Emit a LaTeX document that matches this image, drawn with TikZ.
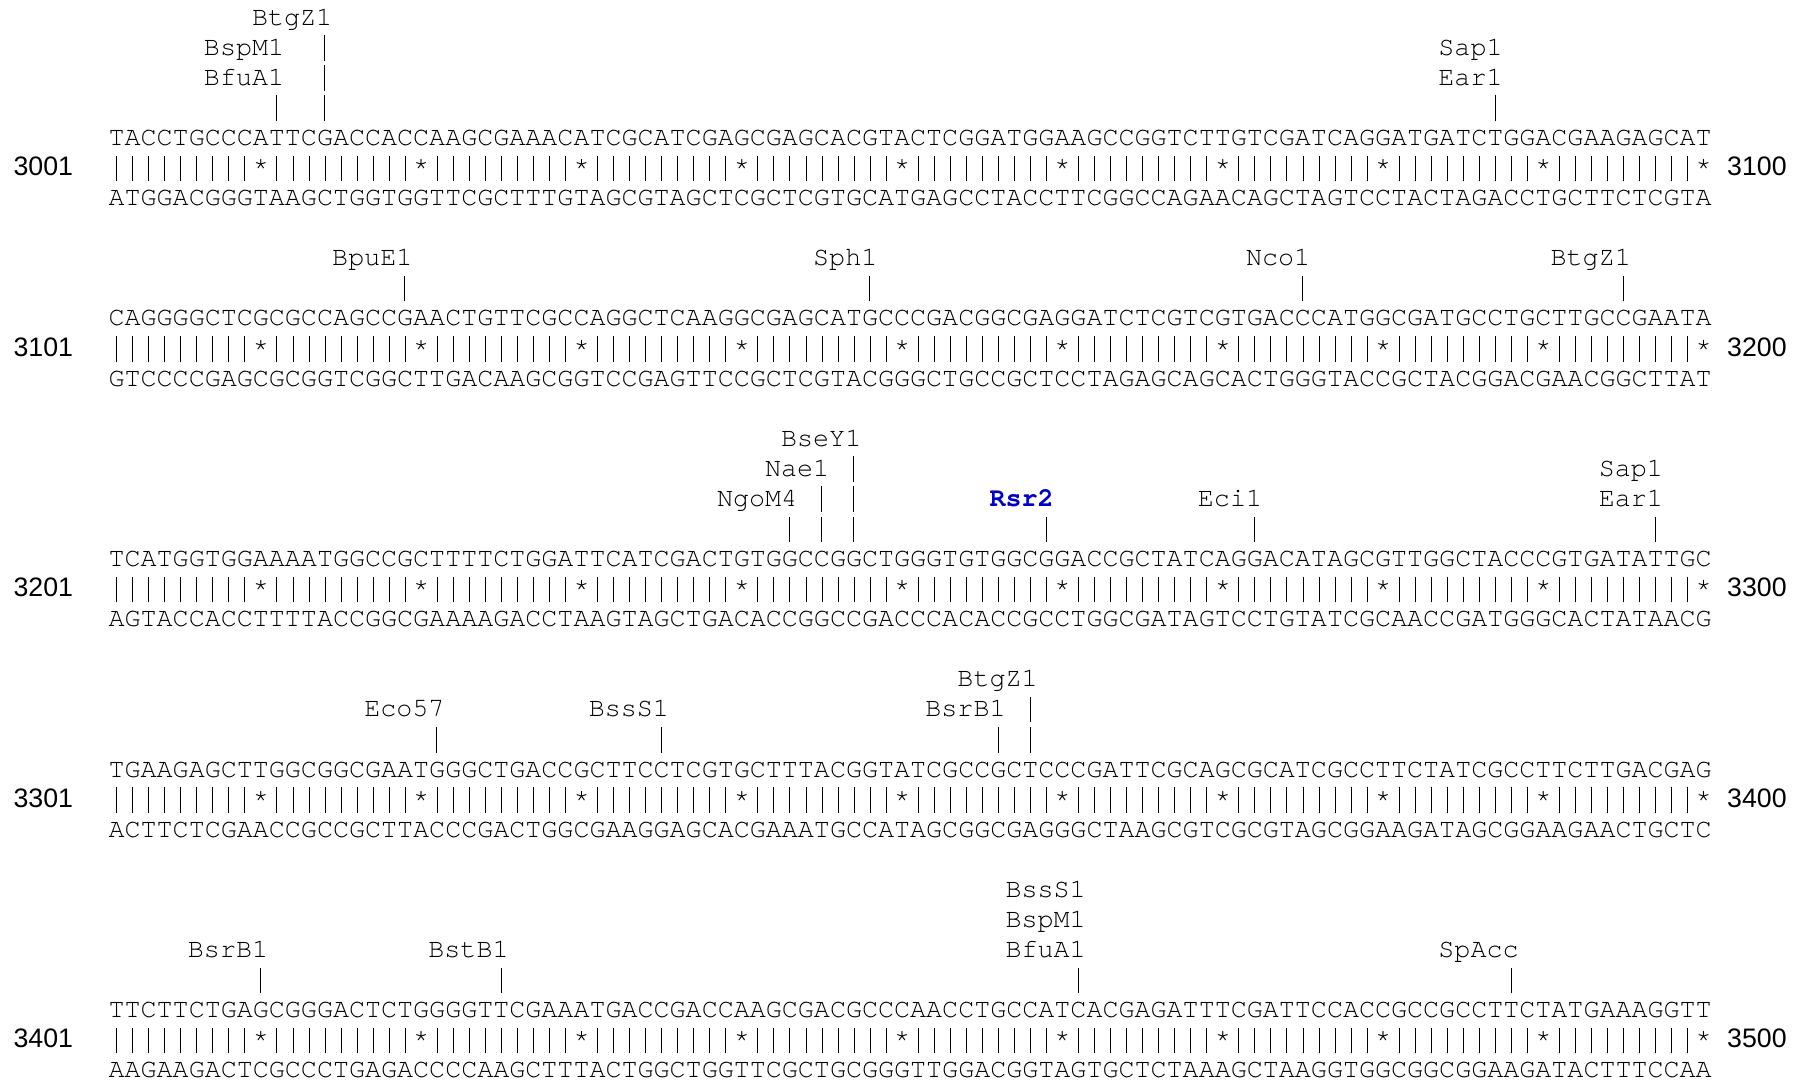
\documentclass[tikz,border=0pt]{standalone}
\usepackage{fontspec}
\setmonofont{TeX Gyre Cursor}
\setsansfont{Liberation Sans}
\usetikzlibrary{positioning}
\definecolor{rsrblue}{RGB}{0,0,205}
\newcommand{\cutbar}{\makebox[8.016pt]{\rule[-2.75pt]{0.45pt}{12.75pt}}}
\newcommand{\matchgroup}{\cutbar\cutbar\cutbar\cutbar\cutbar\cutbar\cutbar\cutbar\cutbar*}

\begin{document}
\begin{tikzpicture}[x=8.016pt, y=-15.04pt,
                seqrow/.style={font=\ttfamily\fontsize{13.36pt}{15.04pt}\selectfont, anchor=base west, inner sep=0pt},
                numlabel/.style={font=\sffamily\fontsize{13.36pt}{15.04pt}\selectfont, inner sep=0pt},
                enzyme/.style={font=\ttfamily\fontsize{13.36pt}{15.04pt}\selectfont, anchor=base east, inner sep=0pt},
                enzyme_hl/.style={enzyme, font=\ttfamily\bfseries\fontsize{13.36pt}{15.04pt}\selectfont, text=rsrblue},
                cutmark/.style={font=\ttfamily\fontsize{13.36pt}{15.04pt}\selectfont, anchor=base, inner sep=0pt},
            ]
            \useasboundingbox (-6.749,-0.836) rectangle (106.09,35.235);

            % Block 3001-3100
            \node[enzyme]   (BtgZ1_a)  at (14,0)  {BtgZ1};
            \node[enzyme]   (BspM1_a)  at (11,1)  {BspM1};
            \node[enzyme]   (BfuA1_a)  at (11,2)  {BfuA1};
            \node[enzyme]   (Sap1_a)   at (87,1)  {Sap1};
            \node[enzyme]   (Ear1_a)   at (87,2)  {Ear1};
            \node[cutmark]  (cut_a_13_1) at (13.5,1) {\cutbar};
            \node[cutmark]  (cut_a_13_2) at (13.5,2) {\cutbar};
            \node[cutmark]  (cut_a_13_3) at (13.5,3) {\cutbar};
            \node[cutmark]  (cut_a_10)   at (10.5,3) {\cutbar};
            \node[cutmark]  (cut_a_86)   at (86.5,3) {\cutbar};
            \node[seqrow]   (top_a)    at (0,4)  {TACCTGCCCATTCGACCACCAAGCGAAACATCGCATCGAGCGAGCACGTACTCGGATGGAAGCCGGTCTTGTCGATCAGGATGATCTGGACGAAGAGCAT};
            \node[seqrow]   (match_a)  at (0,5)  {\matchgroup\matchgroup\matchgroup\matchgroup\matchgroup\matchgroup\matchgroup\matchgroup\matchgroup\matchgroup};
            \node[seqrow]   (bottom_a) at (0,6)  {ATGGACGGGTAAGCTGGTGGTTCGCTTTGTAGCGTAGCTCGCTCGTGCATGAGCCTACCTTCGGCCAGAACAGCTAGTCCTACTAGACCTGCTTCTCGTA};
            \node[numlabel] (start_a)  [base left=17.39pt of match_a.base west]  {3001};
            \node[numlabel] (end_a)    [base right=7.3pt of match_a.base east]   {3100};

            % Block 3101-3200
            \node[enzyme]   (BpuE1_b)  at (19,8)  {BpuE1};
            \node[enzyme]   (Sph1_b)   at (48,8)  {Sph1};
            \node[enzyme]   (Nco1_b)   at (75,8)  {Nco1};
            \node[enzyme]   (BtgZ1_b)  at (95,8)  {BtgZ1};
            \node[cutmark]  (cut_b_18) at (18.5,9) {\cutbar};
            \node[cutmark]  (cut_b_47) at (47.5,9) {\cutbar};
            \node[cutmark]  (cut_b_74) at (74.5,9) {\cutbar};
            \node[cutmark]  (cut_b_94) at (94.5,9) {\cutbar};
            \node[seqrow]   (top_b)    at (0,10) {CAGGGGCTCGCGCCAGCCGAACTGTTCGCCAGGCTCAAGGCGAGCATGCCCGACGGCGAGGATCTCGTCGTGACCCATGGCGATGCCTGCTTGCCGAATA};
            \node[seqrow]   (match_b)  at (0,11) {\matchgroup\matchgroup\matchgroup\matchgroup\matchgroup\matchgroup\matchgroup\matchgroup\matchgroup\matchgroup};
            \node[seqrow]   (bottom_b) at (0,12) {GTCCCCGAGCGCGGTCGGCTTGACAAGCGGTCCGAGTTCCGCTCGTACGGGCTGCCGCTCCTAGAGCAGCACTGGGTACCGCTACGGACGAACGGCTTAT};
            \node[numlabel] (start_b)  [base left=17.39pt of match_b.base west]  {3101};
            \node[numlabel] (end_b)    [base right=7.3pt of match_b.base east]   {3200};

            % Block 3201-3300
            \node[enzyme]    (BseY1_c)  at (47,14) {BseY1};
            \node[enzyme]    (Nae1_c)   at (45,15) {Nae1};
            \node[enzyme]    (NgoM4_c)  at (43,16) {NgoM4};
            \node[enzyme_hl] (Rsr2_c)   at (59,16) {Rsr2};
            \node[enzyme]    (Eci1_c)   at (72,16) {Eci1};
            \node[enzyme]    (Sap1_c)   at (97,15) {Sap1};
            \node[enzyme]    (Ear1_c)   at (97,16) {Ear1};
            \node[cutmark]   (cut_c_46_1) at (46.5,15) {\cutbar};
            \node[cutmark]   (cut_c_46_2) at (46.5,16) {\cutbar};
            \node[cutmark]   (cut_c_46_3) at (46.5,17) {\cutbar};
            \node[cutmark]   (cut_c_44_1) at (44.5,16) {\cutbar};
            \node[cutmark]   (cut_c_44_2) at (44.5,17) {\cutbar};
            \node[cutmark]   (cut_c_42)   at (42.5,17) {\cutbar};
            \node[cutmark]   (cut_c_58)   at (58.5,17) {\cutbar};
            \node[cutmark]   (cut_c_71)   at (71.5,17) {\cutbar};
            \node[cutmark]   (cut_c_96)   at (96.5,17) {\cutbar};
            \node[seqrow]    (top_c)    at (0,18) {TCATGGTGGAAAATGGCCGCTTTTCTGGATTCATCGACTGTGGCCGGCTGGGTGTGGCGGACCGCTATCAGGACATAGCGTTGGCTACCCGTGATATTGC};
            \node[seqrow]    (match_c)  at (0,19) {\matchgroup\matchgroup\matchgroup\matchgroup\matchgroup\matchgroup\matchgroup\matchgroup\matchgroup\matchgroup};
            \node[seqrow]    (bottom_c) at (0,20) {AGTACCACCTTTTACCGGCGAAAAGACCTAAGTAGCTGACACCGGCCGACCCACACCGCCTGGCGATAGTCCTGTATCGCAACCGATGGGCACTATAACG};
            \node[numlabel]  (start_c)  [base left=17.39pt of match_c.base west]  {3201};
            \node[numlabel]  (end_c)    [base right=7.3pt of match_c.base east]   {3300};

            % Block 3301-3400
            \node[enzyme]   (BtgZ1_d)  at (58,22) {BtgZ1};
            \node[enzyme]   (Eco57_d)  at (21,23) {Eco57};
            \node[enzyme]   (BssS1_d)  at (35,23) {BssS1};
            \node[enzyme]   (BsrB1_d)  at (56,23) {BsrB1};
            \node[cutmark]  (cut_d_57_1) at (57.5,23) {\cutbar};
            \node[cutmark]  (cut_d_57_2) at (57.5,24) {\cutbar};
            \node[cutmark]  (cut_d_20)   at (20.5,24) {\cutbar};
            \node[cutmark]  (cut_d_34)   at (34.5,24) {\cutbar};
            \node[cutmark]  (cut_d_55)   at (55.5,24) {\cutbar};
            \node[seqrow]   (top_d)    at (0,25) {TGAAGAGCTTGGCGGCGAATGGGCTGACCGCTTCCTCGTGCTTTACGGTATCGCCGCTCCCGATTCGCAGCGCATCGCCTTCTATCGCCTTCTTGACGAG};
            \node[seqrow]   (match_d)  at (0,26) {\matchgroup\matchgroup\matchgroup\matchgroup\matchgroup\matchgroup\matchgroup\matchgroup\matchgroup\matchgroup};
            \node[seqrow]   (bottom_d) at (0,27) {ACTTCTCGAACCGCCGCTTACCCGACTGGCGAAGGAGCACGAAATGCCATAGCGGCGAGGGCTAAGCGTCGCGTAGCGGAAGATAGCGGAAGAACTGCTC};
            \node[numlabel] (start_d)  [base left=17.39pt of match_d.base west]  {3301};
            \node[numlabel] (end_d)    [base right=7.3pt of match_d.base east]   {3400};

            % Block 3401-3500
            \node[enzyme]   (BssS1_e)  at (61,29) {BssS1};
            \node[enzyme]   (BspM1_e)  at (61,30) {BspM1};
            \node[enzyme]   (BfuA1_e)  at (61,31) {BfuA1};
            \node[enzyme]   (BsrB1_e)  at (10,31) {BsrB1};
            \node[enzyme]   (BstB1_e)  at (25,31) {BstB1};
            \node[enzyme]   (SpAcc_e)  at (88,31) {SpAcc};
            \node[cutmark]  (cut_e_9)  at (9.5,32)  {\cutbar};
            \node[cutmark]  (cut_e_24) at (24.5,32) {\cutbar};
            \node[cutmark]  (cut_e_60) at (60.5,32) {\cutbar};
            \node[cutmark]  (cut_e_87) at (87.5,32) {\cutbar};
            \node[seqrow]   (top_e)    at (0,33) {TTCTTCTGAGCGGGACTCTGGGGTTCGAAATGACCGACCAAGCGACGCCCAACCTGCCATCACGAGATTTCGATTCCACCGCCGCCTTCTATGAAAGGTT};
            \node[seqrow]   (match_e)  at (0,34) {\matchgroup\matchgroup\matchgroup\matchgroup\matchgroup\matchgroup\matchgroup\matchgroup\matchgroup\matchgroup};
            \node[seqrow]   (bottom_e) at (0,35) {AAGAAGACTCGCCCTGAGACCCCAAGCTTTACTGGCTGGTTCGCTGCGGGTTGGACGGTAGTGCTCTAAAGCTAAGGTGGCGGCGGAAGATACTTTCCAA};
            \node[numlabel] (start_e)  [base left=17.39pt of match_e.base west]  {3401};
            \node[numlabel] (end_e)    [base right=7.3pt of match_e.base east]   {3500};
        \end{tikzpicture}
\end{document}
